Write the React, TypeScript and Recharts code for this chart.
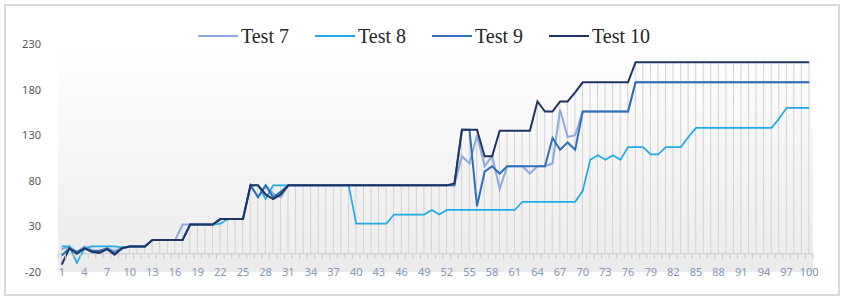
import React from 'react';
import { ComposedChart, Line, Bar, XAxis, YAxis, ReferenceLine, Legend, CartesianGrid } from 'recharts';

const categories: string[] = Array.from({ length: 100 }, (_, i) => String(i + 1));

const yTicks = [-20, 30, 80, 130, 180, 230];

const seriesNames = ['Test 7', 'Test 8', 'Test 9', 'Test 10'];
const seriesColors = ['#8EA9DB', '#22AAE6', '#2E6FB8', '#1F3463'];

const test7 = [
  5, 8, 2, 8, 4, 3, 6, 3, 7, 8,
  8, 8, 15, 15, 15, 15, 32, 32, 32, 32,
  32, 38, 38, 38, 38, 75, 62, 75, 66, 62,
  75, 75, 75, 75, 75, 75, 75, 75, 75, 75,
  75, 75, 75, 75, 75, 75, 75, 75, 75, 75,
  75, 75, 75, 107, 99, 130, 96, 107, 71, 96,
  96, 96, 88, 96, 96, 99, 158, 128, 130, 156,
  156, 156, 156, 156, 156, 156, 188, 188, 188, 188,
  188, 188, 188, 188, 188, 188, 188, 188, 188, 188,
  188, 188, 188, 188, 188, 188, 188, 188, 188, 188,
];

const test8 = [
  8, 8, -10, 6, 8, 8, 8, 8, 7, 8,
  8, 8, 15, 15, 15, 15, 15, 32, 32, 32,
  32, 33, 38, 38, 38, 75, 75, 60, 75, 75,
  75, 75, 75, 75, 75, 75, 75, 75, 75, 33,
  33, 33, 33, 33, 43, 43, 43, 43, 43, 48,
  43, 48, 48, 48, 48, 48, 48, 48, 48, 48,
  48, 57, 57, 57, 57, 57, 57, 57, 57, 69,
  103, 108, 103, 108, 103, 117, 117, 117, 109, 109,
  117, 117, 117, 128, 138, 138, 138, 138, 138, 138,
  138, 138, 138, 138, 138, 148, 160, 160, 160, 160,
];

const test9 = [
  -2, 6, 2, 6, 3, 3, 6, 1, 6, 8,
  8, 8, 15, 15, 15, 15, 15, 32, 32, 32,
  32, 38, 38, 38, 38, 75, 62, 75, 62, 68,
  75, 75, 75, 75, 75, 75, 75, 75, 75, 75,
  75, 75, 75, 75, 75, 75, 75, 75, 75, 75,
  75, 75, 75, 136, 136, 52, 90, 96, 88, 96,
  96, 96, 96, 96, 96, 127, 114, 122, 114, 156,
  156, 156, 156, 156, 156, 156, 188, 188, 188, 188,
  188, 188, 188, 188, 188, 188, 188, 188, 188, 188,
  188, 188, 188, 188, 188, 188, 188, 188, 188, 188,
];

const test10 = [
  -12, 6, 0, 6, 2, 1, 5, -1, 6, 8,
  8, 8, 15, 15, 15, 15, 15, 32, 32, 32,
  32, 38, 38, 38, 38, 75, 75, 65, 60, 65,
  75, 75, 75, 75, 75, 75, 75, 75, 75, 75,
  75, 75, 75, 75, 75, 75, 75, 75, 75, 75,
  75, 75, 77, 136, 136, 136, 107, 107, 135, 135,
  135, 135, 135, 167, 156, 156, 167, 167, 177, 188,
  188, 188, 188, 188, 188, 188, 210, 210, 210, 210,
  210, 210, 210, 210, 210, 210, 210, 210, 210, 210,
  210, 210, 210, 210, 210, 210, 210, 210, 210, 210,
];

const data = categories.map((c, i) => {
  const vals = [test7[i], test8[i], test9[i], test10[i]];
  return {
    cat: c,
    t7: test7[i],
    t8: test8[i],
    t9: test9[i],
    t10: test10[i],
    drop: [Math.min(0, ...vals), Math.max(0, ...vals)],
  };
});

const W = 848;
const H = 301;
const PLOT_LEFT = 58;
const PLOT_RIGHT = 813;
const PLOT_TOP = 44;
const PLOT_BOTTOM = 272;
const BAND = (PLOT_RIGHT - PLOT_LEFT) / categories.length;
const Y0 = PLOT_TOP + (PLOT_BOTTOM - PLOT_TOP) * (230 / 250);

const XTick = (props: any) => {
  const { x, payload } = props;
  const idx = Number(payload.value) - 1;
  return (
    <g>
      <line x1={x + BAND / 2} x2={x + BAND / 2} y1={Y0} y2={Y0 + 5} stroke="#c8c8c8" strokeWidth={1} />
      {idx === 0 && <line x1={x - BAND / 2} x2={x - BAND / 2} y1={Y0} y2={Y0 + 5} stroke="#c8c8c8" strokeWidth={1} />}
      {idx % 3 === 0 && (
        <text x={x} y={PLOT_BOTTOM} dy={4} textAnchor="middle" fill="#8496B4" fontSize={11} fontFamily="'Noto Sans', 'Open Sans', sans-serif">
          {payload.value}
        </text>
      )}
    </g>
  );
};

const YTick = (props: any) => {
  const { y, payload } = props;
  return (
    <text x={41} y={y} dy={4} textAnchor="end" fill="#595959" fontSize={11} fontFamily="'Noto Sans', 'Open Sans', sans-serif">
      {payload.value}
    </text>
  );
};

const LegendContent = () => (
  <div style={{ display: 'flex', justifyContent: 'center', alignItems: 'center', width: W, height: 24 }}>
    {seriesNames.map((n, i) => (
      <div key={n} style={{ display: 'flex', alignItems: 'center', marginRight: i < seriesNames.length - 1 ? 26 : 0 }}>
        <svg width={40} height={4} style={{ display: 'block' }}>
          <line x1={0} x2={40} y1={2} y2={2} stroke={seriesColors[i]} strokeWidth={2} />
        </svg>
        <span style={{ marginLeft: 3, fontFamily: "'Liberation Serif', 'DejaVu Serif', serif", fontSize: 20, color: '#262626', lineHeight: '24px' }}>
          {n}
        </span>
      </div>
    ))}
  </div>
);

export default function App() {
  return (
    <div style={{ position: 'absolute', left: 0, top: 0, width: W, height: H, background: '#ffffff' }}>
      <div
        style={{
          position: 'absolute',
          left: 4,
          top: 4,
          width: 836,
          height: 292,
          border: '2px solid #d9d9d9',
          boxSizing: 'border-box',
        }}
      />
      <div style={{ position: 'absolute', left: 0, top: 0 }}>
        <ComposedChart
          width={W}
          height={H}
          data={data}
          margin={{ top: PLOT_TOP, right: W - PLOT_RIGHT, bottom: H - PLOT_BOTTOM - 20, left: 8 }}
        >
          <defs>
            <linearGradient id="plotBg" x1="0" y1="0" x2="0" y2="1">
              <stop offset="0%" stopColor="#ffffff" />
              <stop offset="100%" stopColor="#ebebeb" />
            </linearGradient>
          </defs>
          <CartesianGrid horizontal={false} vertical={false} fill="url(#plotBg)" />
          <XAxis
            dataKey="cat"
            height={20}
            interval={0}
            axisLine={false}
            tickLine={false}
            tick={<XTick />}
          />
          <YAxis
            width={50}
            domain={[-20, 230]}
            ticks={yTicks}
            axisLine={false}
            tickLine={false}
            tick={<YTick />}
            allowDataOverflow
          />
          <Legend
            verticalAlign="middle"
            align="center"
            layout="horizontal"
            content={<LegendContent />}
            wrapperStyle={{ top: 24, left: 0, width: W, height: 24 }}
          />
          <Bar dataKey="drop" barSize={1} fill="#d2d2d2" isAnimationActive={false} legendType="none" />
          <ReferenceLine y={0} stroke="#c8c8c8" strokeWidth={1} />
          <Line type="linear" dataKey="t7" name="Test 7" stroke={seriesColors[0]} strokeWidth={2} dot={false} isAnimationActive={false} />
          <Line type="linear" dataKey="t8" name="Test 8" stroke={seriesColors[1]} strokeWidth={1.75} dot={false} isAnimationActive={false} />
          <Line type="linear" dataKey="t9" name="Test 9" stroke={seriesColors[2]} strokeWidth={2} dot={false} isAnimationActive={false} />
          <Line type="linear" dataKey="t10" name="Test 10" stroke={seriesColors[3]} strokeWidth={2} dot={false} isAnimationActive={false} />
        </ComposedChart>
      </div>
    </div>
  );
}
